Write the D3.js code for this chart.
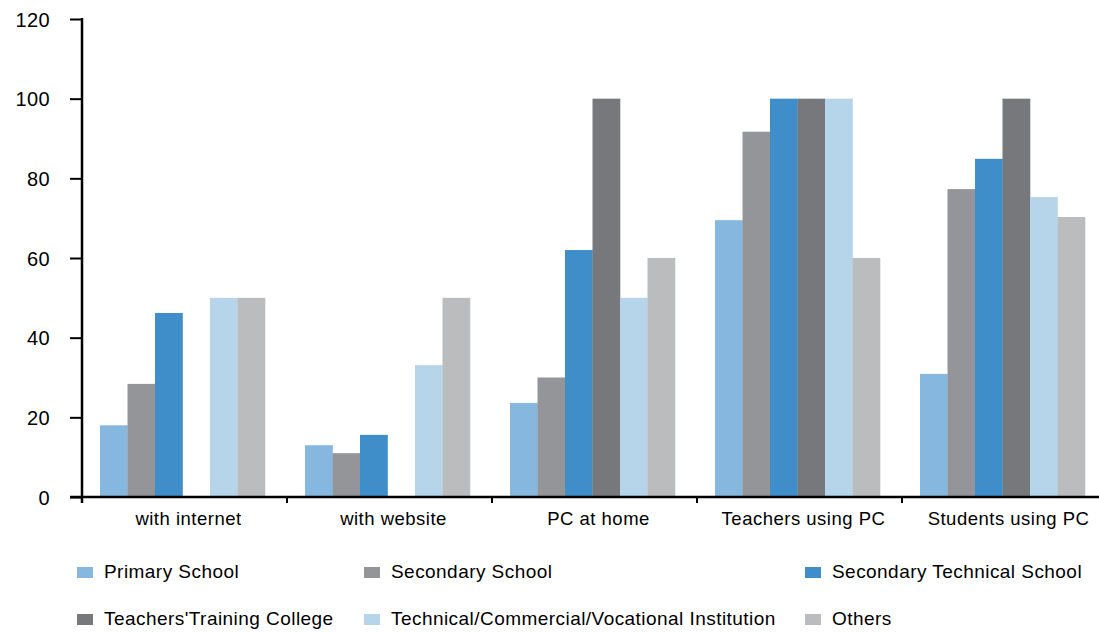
<!DOCTYPE html>
<html>
<head>
<meta charset="utf-8">
<script src="https://cdn.jsdelivr.net/npm/d3@7"></script>
<style>
  html, body { margin: 0; padding: 0; background: #fff; }
  svg { display: block; font-family: "Liberation Sans", Arial, Helvetica, sans-serif; }
</style>
</head>
<body>
<svg id="chart" width="1099" height="633"></svg>
<script>
// Categories along the x axis
const categories = ["with internet", "with website", "PC at home", "Teachers using PC", "Students using PC"];

// Series names (legend order)
const seriesNames = [
  "Primary School",
  "Secondary School",
  "Secondary Technical School",
  "Teachers'Training College",
  "Technical/Commercial/Vocational Institution",
  "Others"
];

// Values per series, one per category
const primarySchool    = [18, 13, 23.6, 69.5, 30.9];
const secondarySchool  = [28.4, 11, 30, 91.7, 77.3];
const secTechnical     = [46.2, 15.6, 62, 100, 84.9];
const teachersTraining = [0, 0, 100, 100, 100];
const technicalInst    = [50, 33.1, 50, 100, 75.3];
const others           = [50, 50, 60, 60, 70.3];

const seriesValues = [primarySchool, secondarySchool, secTechnical, teachersTraining, technicalInst, others];

const seriesColors = ["#86b7de", "#939598", "#3f8ec9", "#77787c", "#b6d5eb", "#bbbcbe"];

// Y axis ticks
const yTicks = [0, 20, 40, 60, 80, 100, 120];

const svg = d3.select("#chart");

const xLeft = 82, yBottom = 497, yTop = 19;
const groupWidth = 205;

const x0 = d3.scaleBand()
  .domain(categories)
  .range([xLeft, xLeft + groupWidth * categories.length])
  .paddingInner(0).paddingOuter(0);

const x1 = d3.scaleBand()
  .domain(seriesNames)
  .range([18, 183])
  .padding(0);

const y = d3.scaleLinear().domain([0, 120]).range([yBottom, yTop]);

const color = d3.scaleOrdinal().domain(seriesNames).range(seriesColors);

// Bars
const rows = categories.map((c, ci) => ({
  category: c,
  values: seriesNames.map((s, si) => ({ series: s, value: seriesValues[si][ci] }))
}));

const groups = svg.append("g").selectAll("g")
  .data(rows)
  .join("g")
  .attr("transform", d => `translate(${x0(d.category)},0)`);

groups.selectAll("rect")
  .data(d => d.values.filter(v => v.value > 0))
  .join("rect")
  .attr("x", d => x1(d.series))
  .attr("width", x1.bandwidth() + 0.3)
  .attr("y", d => y(d.value))
  .attr("height", d => yBottom - y(d.value))
  .attr("fill", d => color(d.series));

// Y axis
const yAxis = d3.axisLeft(y)
  .tickValues(yTicks)
  .tickSize(12)
  .tickPadding(20)
  .tickSizeOuter(0);

const yg = svg.append("g")
  .attr("transform", `translate(${xLeft},0)`)
  .call(yAxis);
yg.select(".domain").remove();
yg.selectAll(".tick line").attr("stroke", "#000").attr("stroke-width", 2);
yg.selectAll(".tick text")
  .attr("fill", "#000")
  .style("font-size", "20px")
  .style("letter-spacing", "0.4px")
  .attr("dy", "0.36em")
  .style("font-family", "'Liberation Sans', Arial, sans-serif");

// Vertical axis line
svg.append("line")
  .attr("x1", xLeft).attr("x2", xLeft)
  .attr("y1", yTop - 1).attr("y2", yBottom + 6)
  .attr("stroke", "#000").attr("stroke-width", 2.5);

// X axis baseline
svg.append("line")
  .attr("x1", 70).attr("x2", 1099)
  .attr("y1", yBottom).attr("y2", yBottom)
  .attr("stroke", "#000").attr("stroke-width", 2.5);

// Group boundary ticks
svg.append("g").selectAll("line")
  .data(categories.slice(1))
  .join("line")
  .attr("x1", d => x0(d)).attr("x2", d => x0(d))
  .attr("y1", yBottom).attr("y2", yBottom + 6)
  .attr("stroke", "#000").attr("stroke-width", 2);

// Category labels
const xAxis = d3.axisBottom(x0).tickSize(0).tickPadding(0);
const xg = svg.append("g")
  .attr("transform", `translate(4,${yBottom})`)
  .call(xAxis);
xg.select(".domain").remove();
xg.selectAll(".tick text")
  .attr("y", 28)
  .attr("dy", 0)
  .attr("fill", "#000")
  .style("font-size", "18.5px")
  .style("letter-spacing", "0.5px")
  .style("font-family", "'Liberation Sans', Arial, sans-serif");

// Legend
const legendCols = [77, 364, 805];
const legendRows = [567, 614];
const legend = svg.append("g").selectAll("g")
  .data(seriesNames)
  .join("g")
  .attr("transform", (d, i) => `translate(${legendCols[i % 3]},${legendRows[Math.floor(i / 3)]})`);

legend.append("rect")
  .attr("width", 16).attr("height", 11)
  .attr("fill", d => color(d));

legend.append("text")
  .attr("x", 27).attr("y", 11)
  .attr("fill", "#000")
  .style("font-size", "19px")
  .style("letter-spacing", "0.45px")
  .text(d => d);
</script>
</body>
</html>
